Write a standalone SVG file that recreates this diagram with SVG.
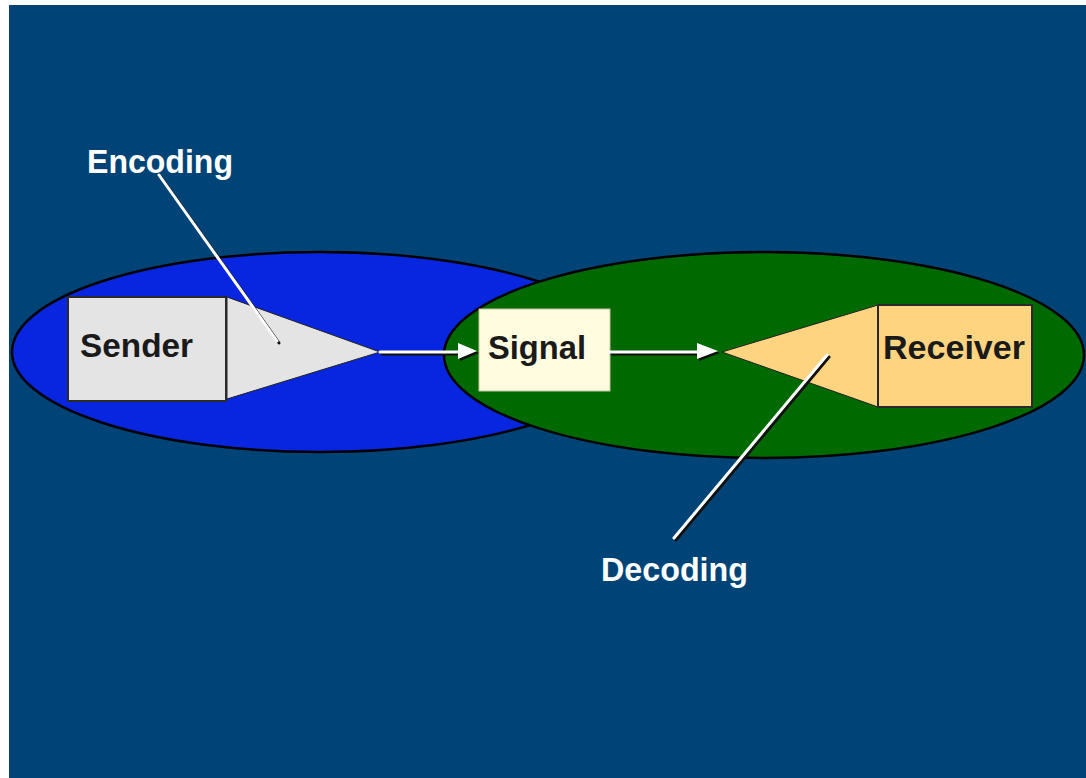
<svg xmlns="http://www.w3.org/2000/svg" width="1086" height="778" viewBox="0 0 1086 778">
<defs>
<style>
.ell{stroke:#000;stroke-width:2.5}
.box{stroke:#2a2a2a;stroke-width:2}
.lbl{font-family:"Liberation Sans",Arial,sans-serif;font-weight:bold;font-size:34px;fill:#1a1a1a}
.wlbl{font-family:"Liberation Sans",Arial,sans-serif;font-weight:bold;font-size:34px;fill:#fff}
.shadow{stroke:#111;stroke-width:3;fill:none;stroke-linecap:round}
.wline{stroke:#fff;stroke-width:3;fill:none;stroke-linecap:round}
</style>
</defs>
<rect x="0" y="0" width="1086" height="778" fill="#fff"/>
<rect x="9" y="5" width="1077" height="773" fill="#004477"/>
<g id="sender-ellipse"><ellipse cx="320" cy="352" rx="308" ry="100" fill="#0826e0" class="ell"/></g>
<g id="receiver-ellipse"><ellipse cx="764" cy="355" rx="320" ry="103" fill="#006a00" class="ell"/></g>
<g id="sender">
<polygon points="227,297 380,352 227,399" fill="#e4e4e4" stroke="#222" stroke-width="1"/>
<rect x="68" y="297" width="158" height="104" fill="#e4e4e4" class="box"/>
<text x="80" y="357" class="lbl" textLength="113" lengthAdjust="spacingAndGlyphs">Sender</text>
</g>
<g id="signal">
<rect x="479" y="309" width="131" height="82" fill="#fffce0" stroke="#c8c4a0" stroke-width="1"/>
<text x="488" y="359" class="lbl" textLength="98" lengthAdjust="spacingAndGlyphs">Signal</text>
</g>
<g id="receiver">
<polygon points="722,352 878,305 878,407" fill="#ffd480" stroke="#222" stroke-width="1"/>
<rect x="878" y="305" width="154" height="102" fill="#ffd480" class="box"/>
<text x="883" y="359" class="lbl" textLength="142" lengthAdjust="spacingAndGlyphs">Receiver</text>
</g>
<g id="encoding-label">
<text x="87" y="173" class="wlbl" textLength="146" lengthAdjust="spacingAndGlyphs">Encoding</text>
</g>
<g id="decoding-label">
<text x="601" y="581" class="wlbl" textLength="147" lengthAdjust="spacingAndGlyphs">Decoding</text>
</g>
<g id="connectors">
<line x1="382" y1="354" x2="460" y2="354" class="shadow"/>
<line x1="380" y1="352" x2="460" y2="352" class="wline"/>
<polygon points="460,345 479,353 460,361" fill="#111"/>
<polygon points="458,343 477,351 458,359" fill="#fff"/>
<line x1="612" y1="354" x2="700" y2="354" class="shadow"/>
<line x1="610" y1="352" x2="700" y2="352" class="wline"/>
<polygon points="699,345 720,353 699,361" fill="#111"/>
<polygon points="697,343 718,351 697,359" fill="#fff"/>
<line x1="161" y1="177" x2="279" y2="343" class="shadow"/>
<line x1="159" y1="175" x2="277" y2="341" class="wline"/>
<line x1="676" y1="540" x2="829" y2="357" class="shadow"/>
<line x1="674" y1="538" x2="827" y2="355" class="wline"/>
</g>
</svg>
